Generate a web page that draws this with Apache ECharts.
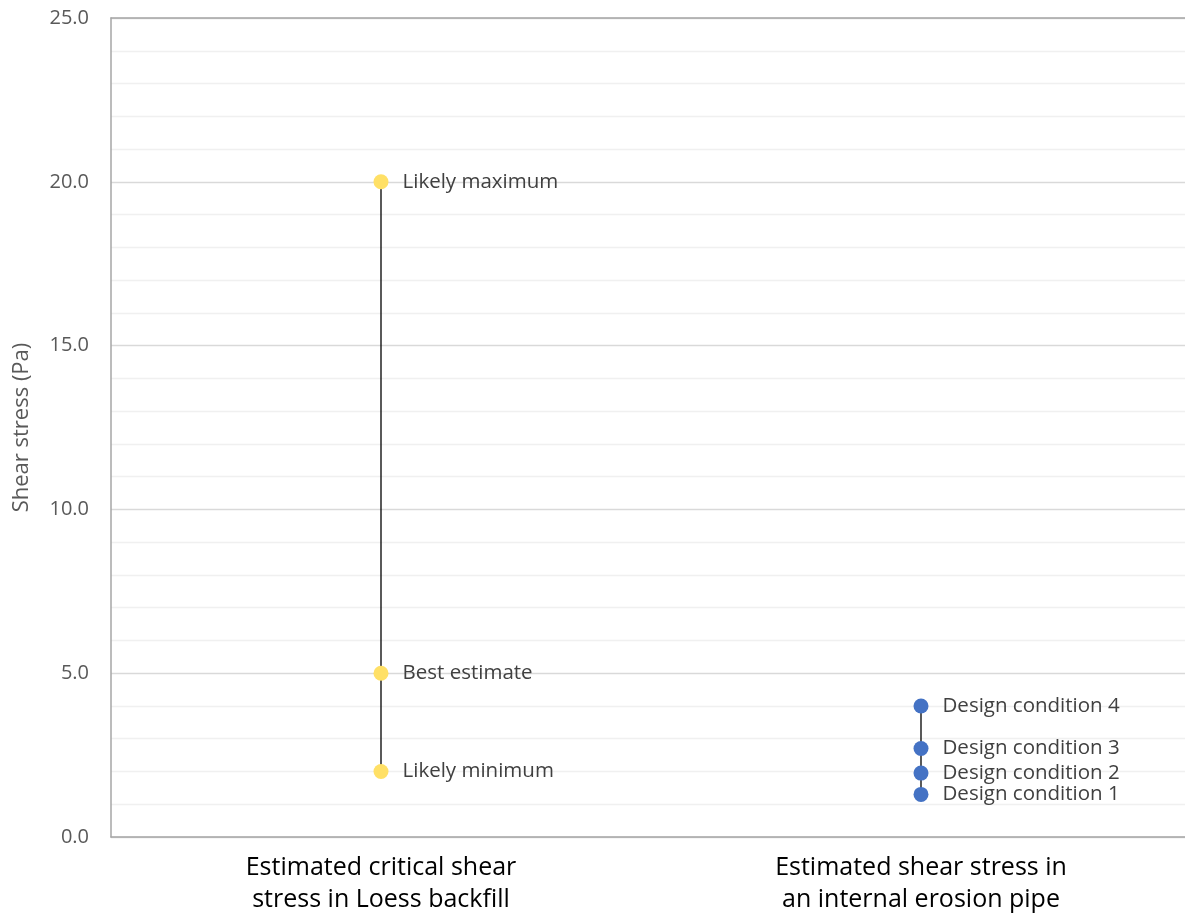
<!DOCTYPE html>
<html><head><meta charset="utf-8">
<script src="https://cdn.jsdelivr.net/npm/echarts@6/dist/echarts.min.js"></script>
<style>html,body{margin:0;padding:0;background:#fff}#c{width:1185px;height:919px}</style>
</head><body><div id="c"></div>
<script>
const categories = ["Estimated critical shear\nstress in Loess backfill", "Estimated shear stress in\nan internal erosion pipe"];
const loessLabels = ["Likely maximum", "Best estimate", "Likely minimum"];
const loessValues = [20, 5, 2];
const pipeLabels = ["Design condition 4", "Design condition 3", "Design condition 2", "Design condition 1"];
const pipeValues = [4.0, 2.7, 1.95, 1.3];
const yTicks = [0, 5, 10, 15, 20, 25];

const font = "Open Sans";
const chart = echarts.init(document.getElementById('c'));
function mk(catIdx, vals, names, color) {
  return {
    type: 'line',
    data: vals.map((v, i) => ({ value: [catIdx, v], name: names[i] })),
    symbol: 'circle', symbolSize: 15,
    itemStyle: { color: color },
    lineStyle: { color: '#000', width: 1.3 },
    label: { show: true, position: 'right', distance: 14, formatter: p => p.name,
      color: '#404040', fontSize: 20.5, fontFamily: font },
    animation: false, z: 3
  };
}
chart.setOption({
  animation: false,
  grid: { left: 111, top: 18, width: 1080, bottom: 82, outerBoundsMode: 'none', containLabel: false },
  xAxis: [{
    type: 'category', data: categories, boundaryGap: true,
    axisLine: { lineStyle: { color: '#a6a6a6', width: 1.5 } },
    axisTick: { show: false },
    axisLabel: { color: '#000', fontSize: 25, fontFamily: font, lineHeight: 32, margin: 15 }
  }, {
    type: 'category', data: categories, position: 'top',
    axisLine: { show: true, lineStyle: { color: '#a6a6a6', width: 1.5 } },
    axisTick: { show: false }, axisLabel: { show: false }
  }],
  yAxis: {
    type: 'value', min: yTicks[0], max: yTicks[yTicks.length - 1], interval: 5,
    name: 'Shear stress (Pa)', nameLocation: 'middle', nameGap: 78,
    nameTextStyle: { color: '#595959', fontSize: 22, fontFamily: font },
    axisLine: { show: true, lineStyle: { color: '#a6a6a6', width: 1.5 } },
    axisTick: { show: false },
    axisLabel: { color: '#595959', fontSize: 20, fontFamily: font, margin: 22, formatter: v => v.toFixed(1) },
    splitLine: { lineStyle: { color: '#d9d9d9', width: 1.3 } },
    minorTick: { show: false, splitNumber: 5 },
    minorSplitLine: { show: true, lineStyle: { color: '#f0f0f0', width: 1.3 } }
  },
  series: [mk(0, loessValues, loessLabels, '#ffe066'), mk(1, pipeValues, pipeLabels, '#4472c4')]
});
</script></body></html>
